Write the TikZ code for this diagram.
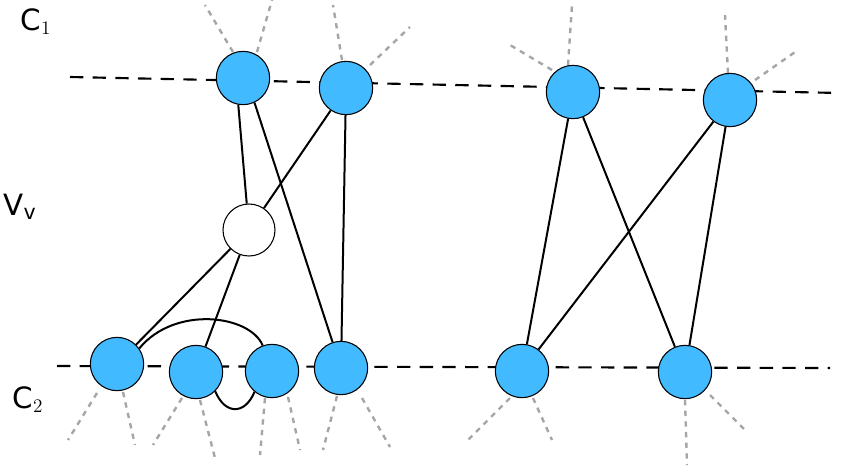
\documentclass[tikz,border=0pt]{standalone}
\usepackage{fontspec}
\setmainfont{DejaVu Sans}
\begin{document}
\begin{tikzpicture}[x=0.75pt,y=-0.75pt,
  vtx/.style={circle,draw=black,thick,fill=cyan!60!blue!45!white,fill={rgb,255:red,66;green,186;blue,255},minimum size=40pt,inner sep=0pt},
  wvtx/.style={circle,draw=black,thick,fill=white,minimum size=39pt,inner sep=0pt},
  stub/.style={gray!70,dashed,line width=1.8pt,dash pattern=on 4pt off 4pt},
  cut/.style={black,line width=1.6pt,dash pattern=on 10pt off 7pt},
  edge/.style={black,line width=1.5pt},
  lab/.style={font=\fontsize{22}{26}\selectfont}]
\useasboundingbox (0,0) rectangle (843,472);
\coordinate (t1) at (70,77); \coordinate (t2) at (840,93);
\coordinate (b1) at (57,366); \coordinate (b2) at (830,368);
\draw[cut] (t1) -- (t2);
\draw[cut] (b1) -- (b2);
% stubs
\foreach \a/\b in {233/52/205/5, 257/52/272/0}{}
\draw[stub] (233,52)--(205,5); \draw[stub] (257,52)--(272,0);
\draw[stub] (342,60)--(333,5); \draw[stub] (370,65)--(410,27);
\draw[stub] (552,70)--(510,45); \draw[stub] (568,65)--(572,5);
\draw[stub] (728,73)--(725,15); \draw[stub] (755,80)--(798,50);
\draw[stub] (97,393)--(68,440); \draw[stub] (123,392)--(135,445);
\draw[stub] (182,398)--(153,445); \draw[stub] (200,400)--(215,458);
\draw[stub] (265,398)--(260,455); \draw[stub] (288,397)--(300,450);
\draw[stub] (337,396)--(323,450); \draw[stub] (362,398)--(390,447);
\draw[stub] (510,398)--(468,440); \draw[stub] (533,398)--(552,440);
\draw[stub] (685,400)--(687,465); \draw[stub] (710,395)--(745,430);
\node[vtx] (A) at (243,78) {};
\node[vtx] (B) at (346,88) {};
\node[vtx] (C) at (573,92) {};
\node[vtx] (D) at (730,100) {};
\node[wvtx] (V) at (249,230) {};
\node[vtx] (E) at (117,364) {};
\node[vtx] (F) at (196,372) {};
\node[vtx] (G) at (272,371) {};
\node[vtx] (H) at (341,368) {};
\node[vtx] (I) at (522,371) {};
\node[vtx] (J) at (685,372) {};
\draw[edge] (A.260) -- (V);
\draw[edge] (B) -- (V);
\draw[edge] (A.295) -- (H);
\draw[edge] (B) -- (H);
\draw[edge] (V) -- (E);
\draw[edge] (V) -- (F);
\draw[edge] (E.35) .. controls (175,305) and (250,315) .. (G.110);
\draw[edge] (F.-45) .. controls (225,415) and (245,415) .. (G.-130);
\draw[edge] (C) -- (I);
\draw[edge] (C) -- (J);
\draw[edge] (D) -- (I);
\draw[edge] (D) -- (J);
\node[lab] (c1) at (36,22) {C$_1$};
\node[lab] (vv) at (20,207) {V$_\mathrm{v}$};
\node[lab] (c2) at (28,400) {C$_2$};
\end{tikzpicture}
\end{document}
